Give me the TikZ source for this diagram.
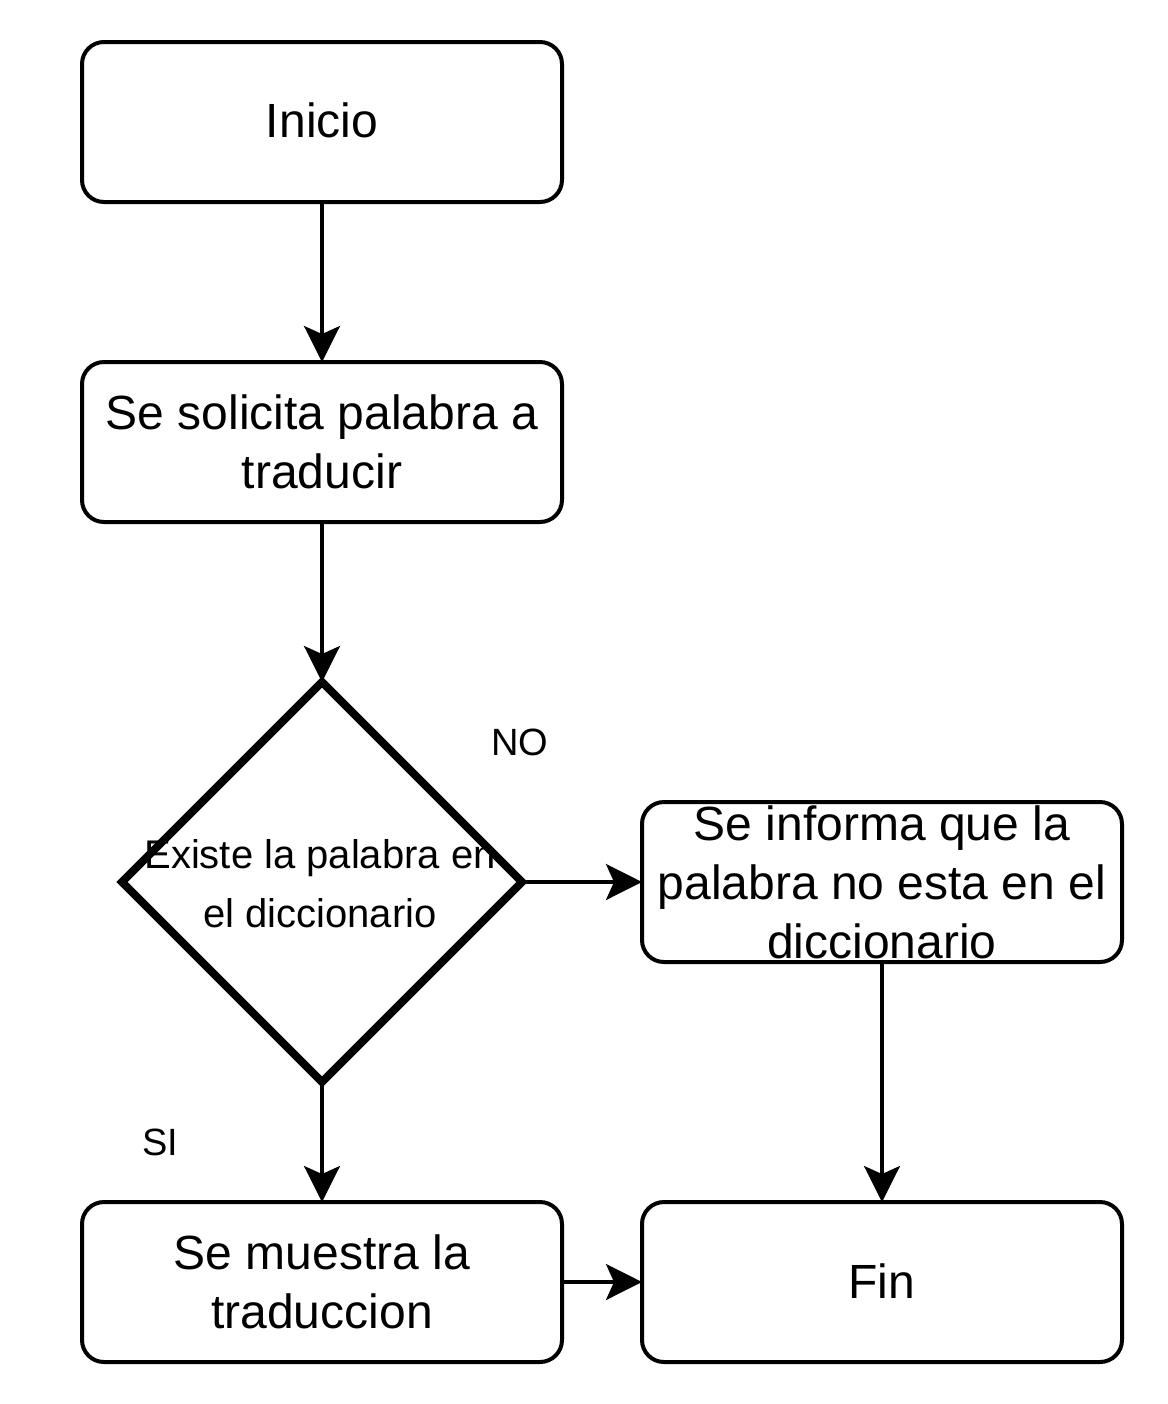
\documentclass[tikz,border=0pt]{standalone}
\usepackage{fontspec}
\setmainfont{Liberation Sans}
\usetikzlibrary{shapes.geometric,arrows.meta}
\begin{document}
\begin{tikzpicture}[x=0.5pt,y=-0.5pt,
  procbox/.style={draw=black, line width=2pt, rounded corners=11pt, minimum width=240pt, minimum height=80pt, inner sep=0pt, outer sep=0pt, align=center, font=\fontsize{24}{29.5}\selectfont},
  decbox/.style={draw=black, line width=4pt, diamond, aspect=1, minimum width=200pt, minimum height=200pt, inner sep=0pt, outer sep=0pt},
  dectext/.style={align=center, inner sep=0pt, font=\fontsize{20}{29.5}\selectfont},
  lbl/.style={inner sep=0pt, font=\fontsize{19}{23}\selectfont},
  conn/.style={draw=black, line width=1.75pt, -{Stealth[length=18pt, width=18pt, inset=4pt]}}
]
\useasboundingbox (0,0) rectangle (1168,1404);
\node[procbox] (inicio) at (322,122) {\raisebox{2pt}{Inicio}};
\node[procbox] (solicita) at (322,442) {Se solicita palabra a\\traducir};
\node[decbox] (existe) at (322,882) {};
\node[dectext] (existetxt) at (320,884) {Existe la palabra en\\el diccionario};
\node[procbox] (informa) at (882,882) {Se informa que la\\palabra no esta en el\\diccionario};
\node[procbox] (muestra) at (322,1282) {Se muestra la\\traduccion};
\node[procbox] (fin) at (882,1282) {\raisebox{1pt}{Fin}};
\node[lbl] (no) at (520,742) {NO};
\node[lbl] (si) at (160,1142) {SI};
\draw[conn] (inicio.south) -- (solicita.north);
\draw[conn] (solicita.south) -- (existe.north);
\draw[conn] (existe.east) -- (informa.west);
\draw[conn] (existe.south) -- (muestra.north);
\draw[conn] (informa.south) -- (fin.north);
\draw[conn] (muestra.east) -- (fin.west);
\end{tikzpicture}
\end{document}
